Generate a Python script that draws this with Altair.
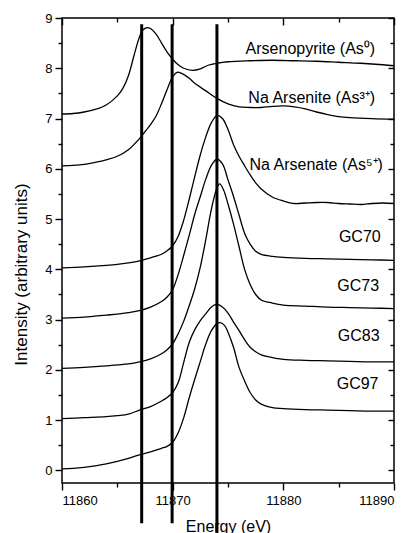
import altair as alt
import pandas as pd

# ---- data (energy in eV, intensity offset-stacked) ----
E_ASPY = [11860, 11861, 11862, 11863, 11864, 11865, 11865.5, 11866, 11866.5, 11867, 11867.3, 11867.7,
          11868, 11868.5, 11869, 11869.5, 11870, 11870.5, 11871, 11871.8, 11872.5, 11873.2, 11874,
          11875, 11877, 11879, 11881, 11883, 11885, 11887, 11889, 11890]
I_ASPY = [7.09, 7.10, 7.13, 7.18, 7.27, 7.45, 7.60, 7.85, 8.25, 8.62, 8.76, 8.81,
          8.79, 8.68, 8.50, 8.32, 8.18, 8.07, 8.00, 7.96, 7.99, 8.06, 8.10,
          8.13, 8.15, 8.16, 8.15, 8.14, 8.12, 8.10, 8.07, 8.05]

E_ARSENITE = [11860, 11861, 11862, 11863, 11864, 11865, 11866, 11867, 11867.5, 11868, 11868.5, 11869,
              11869.5, 11870, 11870.4, 11870.8, 11871.5, 11872, 11873, 11874, 11875, 11876, 11877,
              11878, 11879, 11880, 11881, 11882, 11883, 11884, 11885, 11886, 11888, 11890]
I_ARSENITE = [6.06, 6.07, 6.09, 6.13, 6.18, 6.25, 6.38, 6.60, 6.74, 6.88, 7.05, 7.30,
              7.58, 7.83, 7.92, 7.90, 7.80, 7.70, 7.55, 7.40, 7.29, 7.23, 7.22,
              7.22, 7.24, 7.25, 7.23, 7.19, 7.13, 7.08, 7.04, 7.02, 7.00, 6.99]

E_ARSENATE = [11860, 11862, 11864, 11865, 11866, 11867, 11868, 11869, 11869.5, 11870, 11870.5, 11871,
              11871.5, 11872, 11872.5, 11873, 11873.5, 11874, 11874.5, 11875, 11875.5, 11876, 11876.5,
              11877, 11877.5, 11878, 11879, 11880, 11881, 11882, 11883, 11884, 11885, 11886, 11887,
              11888, 11889, 11890]
I_ARSENATE = [4.03, 4.05, 4.08, 4.10, 4.13, 4.17, 4.23, 4.30, 4.37, 4.47, 4.66, 4.98,
              5.40, 5.85, 6.28, 6.64, 6.92, 7.06, 7.00, 6.78, 6.48, 6.25, 6.06,
              5.88, 5.72, 5.60, 5.44, 5.36, 5.31, 5.32, 5.33, 5.33, 5.31, 5.30, 5.29,
              5.31, 5.32, 5.31]

E_GC70 = [11860, 11862, 11864, 11865, 11866, 11867, 11868, 11869, 11869.5, 11870, 11870.5, 11871,
          11871.5, 11872, 11872.5, 11873, 11873.5, 11874, 11874.5, 11875, 11875.5, 11876, 11876.5,
          11877, 11877.5, 11878, 11879, 11880, 11882, 11884, 11886, 11888, 11890]
I_GC70 = [3.03, 3.05, 3.09, 3.11, 3.14, 3.18, 3.25, 3.36, 3.45, 3.60, 3.90, 4.28,
          4.68, 5.10, 5.45, 5.80, 6.07, 6.19, 6.10, 5.78, 5.45, 5.08, 4.72,
          4.50, 4.36, 4.30, 4.26, 4.24, 4.22, 4.21, 4.20, 4.19, 4.18]

E_GC73 = [11860, 11862, 11864, 11865, 11866, 11867, 11868, 11869, 11869.5, 11870, 11870.5, 11871,
          11871.5, 11872, 11872.5, 11873, 11873.5, 11874, 11874.25, 11874.6, 11875, 11875.5, 11876,
          11876.5, 11877, 11877.5, 11878, 11879, 11880, 11882, 11884, 11886, 11888, 11890]
I_GC73 = [2.03, 2.05, 2.08, 2.10, 2.12, 2.16, 2.22, 2.32, 2.40, 2.52, 2.72, 2.97,
          3.28, 3.62, 4.05, 4.60, 5.20, 5.62, 5.70, 5.58, 5.30, 4.90, 4.45,
          4.00, 3.70, 3.50, 3.39, 3.33, 3.29, 3.27, 3.25, 3.24, 3.23, 3.22]

E_GC83 = [11860, 11862, 11864, 11865, 11866, 11867, 11868, 11869, 11869.5, 11870, 11870.5, 11871,
          11871.5, 11872, 11872.5, 11873, 11873.5, 11874, 11874.5, 11875, 11875.5, 11876, 11876.5,
          11877, 11877.5, 11878, 11878.5, 11880, 11882, 11884, 11886, 11888, 11890]
I_GC83 = [1.03, 1.05, 1.07, 1.09, 1.12, 1.20, 1.27, 1.38, 1.45, 1.55, 1.75, 2.15,
          2.55, 2.80, 2.98, 3.12, 3.25, 3.31, 3.25, 3.13, 2.95, 2.78, 2.60,
          2.45, 2.36, 2.30, 2.27, 2.21, 2.19, 2.18, 2.17, 2.16, 2.16]

E_GC97 = [11860, 11861, 11862, 11863, 11864, 11865, 11866, 11867, 11867.5, 11868, 11869, 11869.5,
          11870, 11870.5, 11871, 11871.5, 11872, 11872.5, 11873, 11873.5, 11874, 11874.3, 11874.7,
          11875, 11875.5, 11876, 11876.5, 11877, 11877.5, 11878, 11879, 11880, 11882, 11884, 11886,
          11888, 11890]
I_GC97 = [0.03, 0.04, 0.06, 0.09, 0.13, 0.18, 0.24, 0.31, 0.34, 0.37, 0.44, 0.48,
          0.56, 0.75, 1.05, 1.45, 1.82, 2.17, 2.52, 2.78, 2.92, 2.94, 2.88,
          2.75, 2.45, 2.05, 1.78, 1.55, 1.40, 1.32, 1.25, 1.23, 1.21, 1.20, 1.19,
          1.18, 1.18]

SERIES = [
    ("Arsenopyrite", E_ASPY, I_ASPY),
    ("Na Arsenite", E_ARSENITE, I_ARSENITE),
    ("Na Arsenate", E_ARSENATE, I_ARSENATE),
    ("GC70", E_GC70, I_GC70),
    ("GC73", E_GC73, I_GC73),
    ("GC83", E_GC83, I_GC83),
    ("GC97", E_GC97, I_GC97),
]

# vertical reference lines (edge energies) and their vertical extent in intensity units
EDGE_E = [11867.2, 11869.95, 11874.0]
EDGE_TOP = [8.875, 8.875, 8.875]
EDGE_BOTTOM = [-1.05, -1.05, -1.35]

# curve labels
LABEL_TEXT_REF = ["Arsenopyrite (As\u2070)", "Na Arsenite (As\u00b3\u207a)", "Na Arsenate (As\u2075\u207a)"]
LABEL_X_REF = [11888.3, 11888.3, 11889.0]
LABEL_Y_REF = [8.28, 7.30, 5.97]
LABEL_TEXT_GC = ["GC70", "GC73", "GC83", "GC97"]
LABEL_X_GC = [11888.8, 11888.65, 11888.7, 11888.6]
LABEL_Y_GC = [4.54, 3.565, 2.57, 1.61]

X_MAJOR = [11860, 11870, 11880, 11890]
X_MINOR = [11865, 11875, 11885]
Y_MAJOR = list(range(0, 10))
Y_MINOR = [0.5, 1.5, 2.5, 3.5, 4.5, 5.5, 6.5, 7.5, 8.5]

rows = []
for name, es, ins in SERIES:
    for e, v in zip(es, ins):
        rows.append({"series": name, "energy": e, "intensity": v})
df = pd.DataFrame(rows)
edges = pd.DataFrame({"energy": EDGE_E, "top": EDGE_TOP, "bottom": EDGE_BOTTOM})
lab_ref = pd.DataFrame({"energy": LABEL_X_REF, "intensity": LABEL_Y_REF, "label": LABEL_TEXT_REF})
lab_gc = pd.DataFrame({"energy": LABEL_X_GC, "intensity": LABEL_Y_GC, "label": LABEL_TEXT_GC})

W, H = 332, 465
FONT = "Liberation Sans"
INK = "#000000"
xs = alt.Scale(domain=[11860, 11890], nice=False, zero=False)
ys = alt.Scale(domain=[-0.25, 9], nice=False, zero=False)
AX = dict(tickColor=INK, tickWidth=1.4, domain=False, zindex=1)

curves = alt.Chart(df).mark_line(color=INK, strokeWidth=1.3, interpolate="catmull-rom").encode(
    x=alt.X("energy:Q", scale=xs, axis=alt.Axis(
        orient="bottom", values=X_MAJOR, format="d", tickSize=7, labelPadding=4,
        labelFontSize=13, title="Energy (eV)", titleFontSize=16, titleX=W / 2,
        titleY=48, titleBaseline="alphabetic", titleAlign="center", **AX)),
    y=alt.Y("intensity:Q", scale=ys, axis=alt.Axis(
        orient="left", values=Y_MAJOR, format="d", tickSize=7, labelPadding=3,
        labelFontSize=13, title="Intensity (arbitrary units)", titleFontSize=17,
        titleX=-36, titleY=256, titleAngle=270, titleBaseline="alphabetic",
        titleAlign="center", **AX)),
    detail="series:N",
)

rules = alt.Chart(edges).mark_rule(color=INK, strokeWidth=3).encode(
    x=alt.X("energy:Q", scale=xs, axis=alt.Axis(
        orient="bottom", values=X_MINOR, tickSize=4, labels=False, title="", **AX)),
    y=alt.Y("top:Q", scale=ys, axis=alt.Axis(
        orient="left", values=Y_MINOR, tickSize=4, labels=False, title="", **AX)),
    y2="bottom:Q",
)

labels_ref = alt.Chart(lab_ref).mark_text(
    align="right", baseline="alphabetic", fontSize=16, font=FONT, color=INK
).encode(
    x=alt.X("energy:Q", scale=xs, axis=alt.Axis(
        orient="bottom", offset=-H, values=X_MAJOR, tickSize=7, labels=False, title="", **AX)),
    y=alt.Y("intensity:Q", scale=ys, axis=alt.Axis(
        orient="left", offset=-W, values=Y_MAJOR, tickSize=6, labels=False, title="", **AX)),
    text="label:N",
)

labels_gc = alt.Chart(lab_gc).mark_text(
    align="right", baseline="alphabetic", fontSize=16, font=FONT, color=INK
).encode(
    x=alt.X("energy:Q", scale=xs, axis=alt.Axis(
        orient="bottom", offset=-H, values=X_MINOR, tickSize=4, labels=False, title="", **AX)),
    y=alt.Y("intensity:Q", scale=ys, axis=alt.Axis(
        orient="left", offset=-W, values=Y_MINOR, tickSize=4, labels=False, title="", **AX)),
    text="label:N",
)

chart = alt.layer(curves, rules, labels_ref, labels_gc).resolve_axis(
    x="independent", y="independent"
).properties(
    width=W, height=H,
    padding={"left": 62, "top": 18, "right": 20, "bottom": 50},
    autosize=alt.AutoSizeParams(type="none"),
).configure_axis(
    grid=False, labelColor=INK, titleColor=INK, labelFont=FONT,
    titleFont=FONT, titleFontWeight="normal",
).configure_view(stroke=INK, strokeWidth=1.5)

chart.save("out.html", embed_options={"renderer": "svg", "actions": False})
